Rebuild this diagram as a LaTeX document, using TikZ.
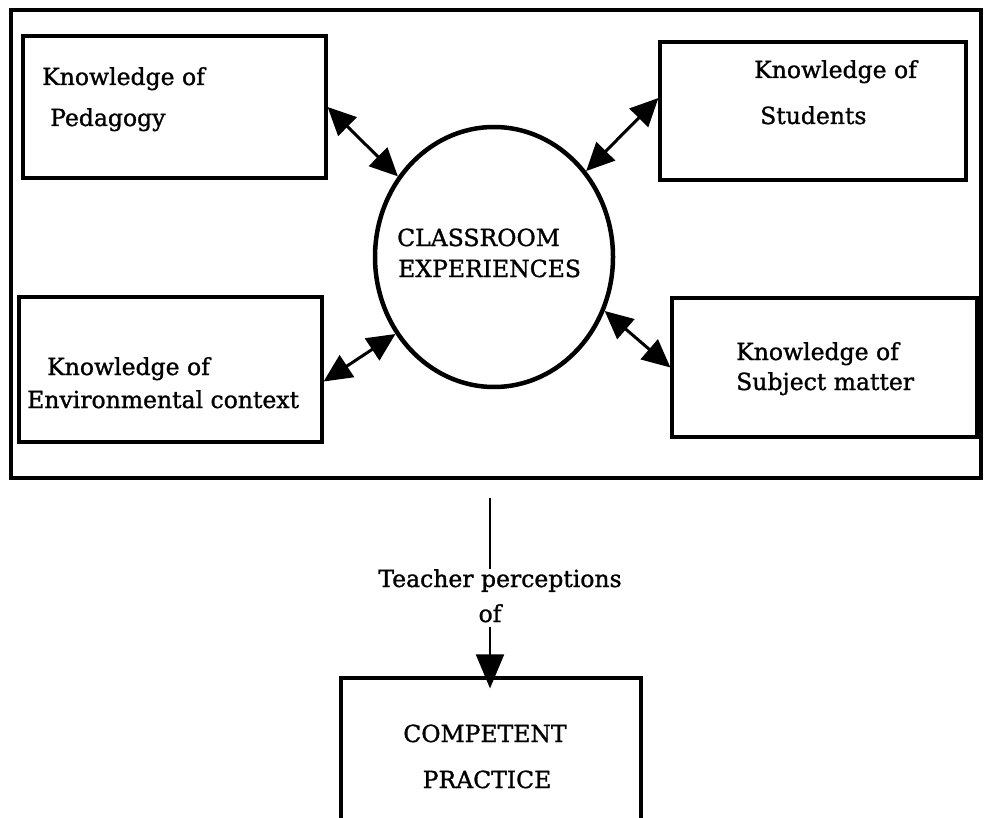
\documentclass[tikz,border=0pt]{standalone}
\usepackage{fontspec}
\setmainfont{DejaVu Serif}
\newfontfamily\heavyserif{DejaVu Serif}[FakeBold=1.2]
\usetikzlibrary{arrows.meta,shapes.geometric}
\tikzset{
  box/.style={draw, line width=3.2pt, rectangle, inner sep=0pt},
  txt/.style={anchor=base west, inner sep=0pt, font=\heavyserif\fontsize{23.5}{28}\selectfont},
  ctxt/.style={anchor=base, inner sep=0pt, font=\heavyserif\fontsize{23.5}{28}\selectfont},
  dbl/.style={line width=3pt, {Triangle[length=28pt,width=26pt]}-{Triangle[length=28pt,width=26pt]}},
}
\begin{document}
\begin{tikzpicture}[x=1pt,y=-1pt]
\useasboundingbox (0,0) rectangle (984,818);
\clip (0,0) rectangle (984,818);
% outer frame
\node[box, minimum width=970pt, minimum height=468pt] (frame) at (496,244) {};
% boxes
\node[box, minimum width=303pt, minimum height=142pt] (ped) at (174.5,107) {};
\node[box, minimum width=306pt, minimum height=138pt] (stu) at (813,111) {};
\node[box, minimum width=303pt, minimum height=145pt] (env) at (170.5,369.5) {};
\node[box, minimum width=305pt, minimum height=139pt] (sub) at (824.5,367.5) {};
\node[draw, ellipse, line width=4.5pt, inner sep=0pt, minimum width=238pt, minimum height=260pt] (ce) at (494,257) {};
\node[box, minimum width=300pt, minimum height=160pt] (cp) at (491,758) {};
% texts
\node[txt] (pedA) at (42,85) {Knowledge of};
\node[txt] (pedB) at (50,126) {Pedagogy};
\node[txt] (stuA) at (754,78) {Knowledge of};
\node[txt] (stuB) at (760,124) {Students};
\node[txt] (envA) at (47,375) {Knowledge of};
\node[txt] (envB) at (27,408) {Environmental context};
\node[txt] (subA) at (736,360) {Knowledge of};
\node[txt] (subB) at (736,390) {Subject matter};
\node[txt] (ceA) at (397,246) {CLASSROOM};
\node[txt] (ceB) at (398,277) {EXPERIENCES};
\node[ctxt] (tp) at (500,587) {Teacher perceptions};
\node[ctxt] (of) at (490,622) {of};
\node[ctxt] (cpA) at (485,742) {COMPETENT};
\node[ctxt] (cpB) at (487,788) {PRACTICE};
% double arrows
\draw[dbl] (ped.east) -- (ce.140);
\draw[dbl] ([yshift=13pt]stu.west) -- (ce.43);
\draw[dbl] ([yshift=-12pt]env.east) -- (ce.218);
\draw[dbl] (sub.west) -- (ce.334);
% vertical arrow
\coordinate (vtop) at (490,498);
\draw[line width=2pt] (vtop) -- (vtop |- tp.north);
\draw[line width=2pt, -{Triangle[length=34pt,width=28pt]}, shorten <=4pt, shorten >=-12pt] (of.south) -- (of.south |- cp.north);
\end{tikzpicture}
\end{document}
